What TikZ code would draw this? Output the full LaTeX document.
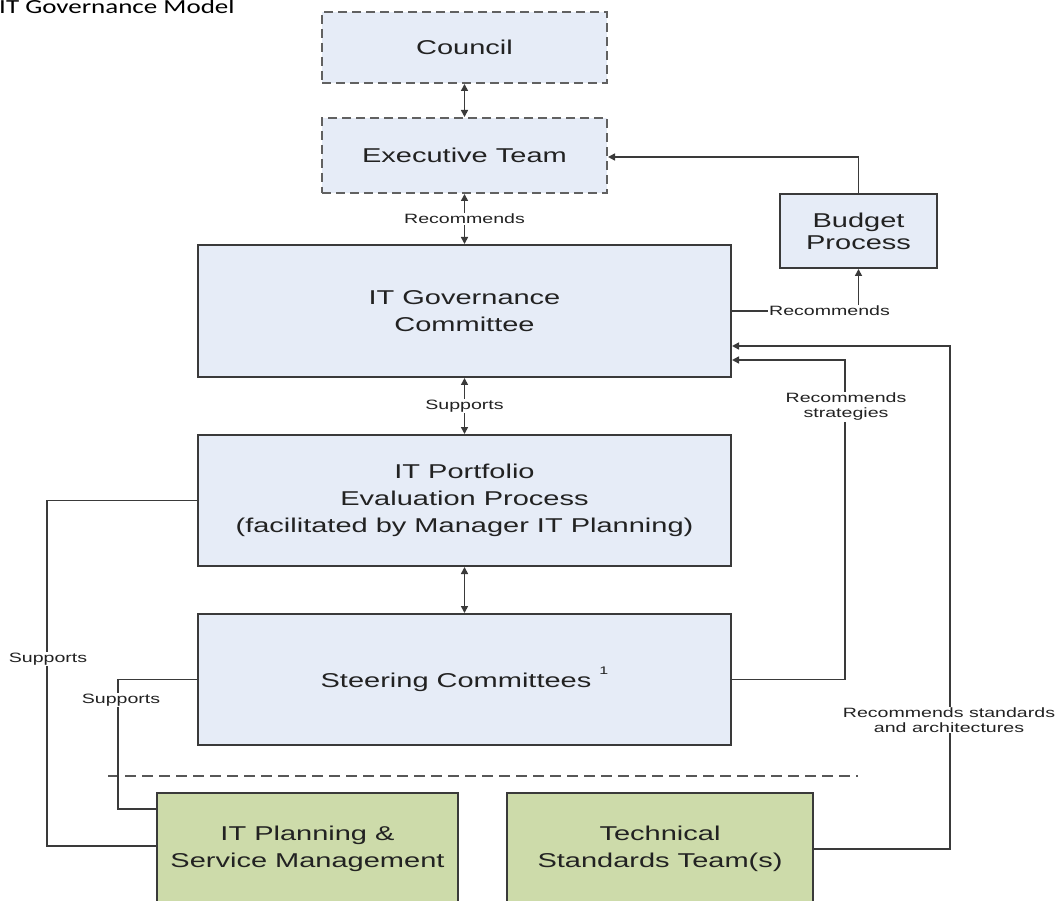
\documentclass[tikz,border=0pt]{standalone}
\usepackage{fontspec}
\setmainfont{Liberation Sans}[FakeStretch=1.45]
\newfontfamily\titlefont{Carlito}[FakeStretch=1.35]
\usepackage{tikz}
\usetikzlibrary{arrows.meta}
\usetikzlibrary{positioning}

\definecolor{boxblue}{HTML}{E6ECF7}
\definecolor{boxgreen}{HTML}{CDDBAA}
\definecolor{edge}{HTML}{3A3A3A}
\definecolor{ink}{HTML}{222222}

\tikzset{
  govbox/.style={draw=edge,line width=2pt,fill=boxblue,text=ink,align=center,
    inner sep=0pt,font=\fontsize{20}{27}\selectfont},
  dashbox/.style={govbox,dashed,dash pattern=on 9pt off 5pt,draw=edge!80},
  teambox/.style={govbox,fill=boxgreen},
  link/.style={draw=edge,line width=1.6pt},
  tip/.style={-{Triangle[length=7pt,width=7pt]}},
  bitip/.style={{Triangle[length=7pt,width=7pt]}-{Triangle[length=7pt,width=7pt]}},
  lbl/.style={fill=white,text=ink,align=center,inner sep=1pt,
    font=\fontsize{13.5}{15}\selectfont}
}

\begin{document}
\begin{tikzpicture}[x=1pt,y=-1pt]
			\useasboundingbox (0,0) rectangle (1058,901);
			
			\node[anchor=base west,text=black,inner sep=0pt,font=\titlefont\fontsize{20}{24}\selectfont] (title) at (-1,14) {IT Governance Model};
			
			% upper boxes
			
			\node[dashbox,minimum width=285,minimum height=71] (council) at (464.5,47.5) {Council};
			\node[dashbox,minimum width=285,minimum height=75] (exec) at (464.5,155.5) {Executive Team};
			\node[govbox,minimum width=157,minimum height=74,font=\fontsize{20}{22}\selectfont] (budget) at (858.5,231) {Budget\\Process};
			\node[govbox,minimum width=533,minimum height=132] (itgc) at (464.5,311) {IT Governance\\Committee};
			\node[govbox,minimum width=533,minimum height=131] (portfolio) at (464.5,500.5) {IT Portfolio\\Evaluation Process\\(facilitated by Manager IT Planning)};
			\node[govbox,minimum width=533,minimum height=131] (steering) at (464.5,679.5) {Steering Committees \raisebox{1.2ex}{\fontsize{11}{11}\selectfont 1}};
			
			% teams
			
			\draw[edge!85,line width=1.4pt,dash pattern=on 11pt off 6pt] (108,776) -- (858,776);
			\node[teambox,minimum width=301,minimum height=112] (planning) at (307.5,849) {IT Planning \&\\Service Management};
			\node[teambox,minimum width=306,minimum height=112] (tech) at (660,849) {Technical\\Standards Team(s)};
			
			% connectors
			
			\draw[link,bitip] (council) -- (exec);
			\draw[link,bitip] (exec) -- node[lbl] (rec1) {Recommends} (itgc);
			\draw[link,bitip] (itgc) -- node[lbl] (sup1) {Supports} (portfolio);
			\draw[link,bitip] (portfolio) -- (steering);
			
			\draw[link,tip] (budget.north) |- ([yshift=-1.5pt]exec.east);
			\node[lbl] (rec2) at ([xshift=-29pt]budget.south |- itgc.east) {Recommends};
			\draw[link] (itgc.east) -- (rec2.west);
			\draw[link,tip] (rec2.north -| budget.south) -- (budget.south);
			
			\draw[link,tip] (steering.east) -- ++(113,0) |- ([yshift=-49pt]itgc.east);
			\node[lbl] (strat) at (846,407) {Recommends\\strategies};
			\draw[link,tip] (tech.east) -- ++(136,0) |- ([yshift=-35pt]itgc.east);
			\node[lbl] (stds) at (949,720) {Recommends standards\\and architectures};
			
			\draw[link] (portfolio.west) -- ++(-150,0) |- ([yshift=3pt]planning.west);
			\node[lbl] (sup2) at (48,659) {Supports};
			\draw[link] (steering.west) -- ++(-79,0) |- ([yshift=40pt]planning.west);
			\node[lbl] (sup3) at (121,700) {Supports};
			
		\end{tikzpicture}
\end{document}
